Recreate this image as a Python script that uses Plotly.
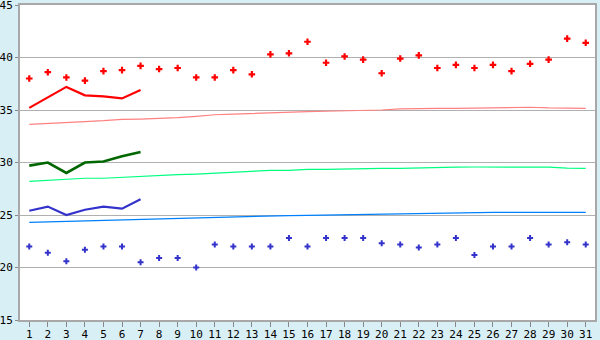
import plotly.graph_objects as go

days = list(range(1, 32))

# daily maximum (red markers) and minimum (blue markers)
max_pts = [38.0, 38.6, 38.1, 37.8, 38.7, 38.8, 39.2, 38.9, 39.0, 38.1,
           38.1, 38.8, 38.4, 40.3, 40.4, 41.5, 39.5, 40.1, 39.8, 38.5,
           39.9, 40.2, 39.0, 39.3, 39.0, 39.3, 38.7, 39.4, 39.8, 41.8, 41.4]
min_pts = [22.0, 21.4, 20.6, 21.7, 22.0, 22.0, 20.5, 20.9, 20.9, 20.0,
           22.2, 22.0, 22.0, 22.0, 22.8, 22.0, 22.8, 22.8, 22.8, 22.3,
           22.2, 21.9, 22.2, 22.8, 21.2, 22.0, 22.0, 22.8, 22.2, 22.4, 22.2]

# thick lines (first week)
line_days = [1, 2, 3, 4, 5, 6, 7]
red_line = [35.2, 36.2, 37.2, 36.4, 36.3, 36.1, 36.9]
green_line = [29.7, 30.0, 29.0, 30.0, 30.1, 30.6, 31.0]
blue_line = [25.4, 25.8, 25.0, 25.5, 25.8, 25.6, 26.5]

# thin normal lines
pink_norm = [33.64, 33.75, 33.83, 33.9, 33.98, 34.1, 34.14, 34.2, 34.28, 34.4,
             34.55, 34.6, 34.68, 34.7, 34.8, 34.85, 34.88, 34.9, 34.95, 35.0,
             35.1, 35.15, 35.16, 35.16, 35.2, 35.25, 35.26, 35.26, 35.2, 35.16, 35.16]
green_norm = [28.2, 28.3, 28.4, 28.5, 28.5, 28.6, 28.65, 28.8, 28.85, 28.9,
              29.0, 29.1, 29.15, 29.25, 29.25, 29.35, 29.35, 29.4, 29.45, 29.45,
              29.45, 29.5, 29.55, 29.55, 29.57, 29.57, 29.57, 29.57, 29.55, 29.47, 29.45]
blue_norm = [24.3, 24.35, 24.4, 24.45, 24.5, 24.55, 24.6, 24.65, 24.7, 24.75,
             24.8, 24.82, 24.9, 24.92, 24.95, 24.97, 25.0, 25.0, 25.05, 25.1,
             25.15, 25.15, 25.17, 25.2, 25.22, 25.25, 25.25, 25.25, 25.25, 25.25, 25.25]

y_ticks = [15, 20, 25, 30, 35, 40, 45]

fig = go.Figure()
fig.add_trace(go.Scatter(x=days, y=pink_norm, mode="lines", line=dict(color="#FF8080", width=1.2)))
fig.add_trace(go.Scatter(x=days, y=green_norm, mode="lines", line=dict(color="#00FF80", width=1.2)))
fig.add_trace(go.Scatter(x=days, y=blue_norm, mode="lines", line=dict(color="#0080FF", width=1.2)))
fig.add_trace(go.Scatter(x=line_days, y=red_line, mode="lines", line=dict(color="#FF0000", width=2.2)))
fig.add_trace(go.Scatter(x=line_days, y=green_line, mode="lines", line=dict(color="#006600", width=2.6)))
fig.add_trace(go.Scatter(x=line_days, y=blue_line, mode="lines", line=dict(color="#3333CC", width=2.2)))
fig.add_trace(go.Scatter(x=days, y=max_pts, mode="markers",
                         marker=dict(symbol="cross", size=5.5, color="#FF0000", line=dict(width=0))))
fig.add_trace(go.Scatter(x=days, y=min_pts, mode="markers",
                         marker=dict(symbol="cross", size=5, color="#3333CC", line=dict(width=0))))

font = dict(family="DejaVu Sans Mono", size=11, color="#000000")
fig.update_layout(
    width=600, height=340,
    margin=dict(l=20, r=5, t=5, b=20, autoexpand=False),
    paper_bgcolor="#D9EFF6", plot_bgcolor="#FFFFFF",
    showlegend=False, font=font,
)
fig.update_xaxes(range=[0.5, 31.5], tickmode="array", tickvals=days,
                 ticktext=[str(d) for d in days], ticks="outside", ticklen=5,
                 tickcolor="#888888", showgrid=False, showline=True, mirror=True,
                 linecolor="#A8A8A8", linewidth=2, zeroline=False, tickfont=font,
                 automargin=False, ticklabeloverflow="allow", ticklabelstandoff=-2)
fig.update_yaxes(range=[15, 45], tickmode="array", tickvals=y_ticks,
                 ticks="outside", ticklen=3, tickcolor="#888888",
                 showgrid=True, gridcolor="#B0B0B0", gridwidth=1,
                 showline=True, mirror=True, linecolor="#A8A8A8", linewidth=2,
                 zeroline=False, tickfont=font, automargin=False,
                 ticklabeloverflow="allow")

fig.write_html("out.html")
